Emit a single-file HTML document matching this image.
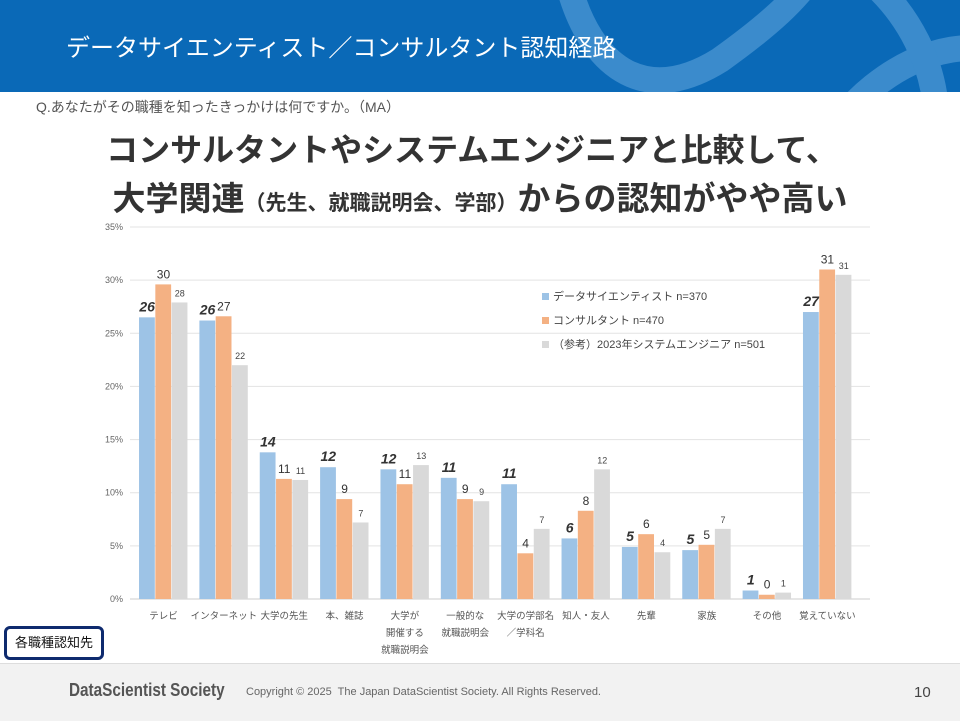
<!DOCTYPE html>
<html><head><meta charset="utf-8"><style>
body{margin:0;width:960px;height:720px;position:relative;background:#fff;overflow:hidden;font-family:"Liberation Sans","Noto Sans CJK JP",sans-serif}
.abs{position:absolute}
</style></head><body>
<div class="abs" style="left:0;top:0;width:960px;height:92px;background:#0a69b7;overflow:hidden">
<svg width="960" height="92" style="position:absolute;left:0;top:0">
<path d="M570,-10 C590,60 640,110 720,60 C790,10 800,-10 810,-20" stroke="#3b8bcc" stroke-width="26" fill="none"/>
<path d="M840,120 C880,70 940,40 990,50" stroke="#3b8bcc" stroke-width="26" fill="none"/>
<path d="M880,-10 C910,20 930,60 935,100" stroke="#3b8bcc" stroke-width="26" fill="none"/>
</svg>
<div class="abs" style="left:66px;top:28px;color:#fff;font-size:24px;white-space:nowrap">データサイエンティスト／コンサルタント認知経路</div>
</div>
<div class="abs" style="left:36px;top:97px;font-size:14px;color:#555;white-space:nowrap">Q.あなたがその職種を知ったきっかけは何ですか。（MA）</div>
<div class="abs" style="left:0;width:944px;text-align:center;top:125px;font-size:32px;font-weight:bold;color:#333;white-space:nowrap">コンサルタントやシステムエンジニアと比較して、</div>
<div class="abs" style="left:0;width:960px;text-align:center;top:172px;font-weight:bold;color:#333;white-space:nowrap;font-size:33px">大学関連<span style="font-size:21px">（先生、就職説明会、学部）</span>からの認知がやや高い</div>
<svg id="chart" class="abs" style="left:0;top:0" width="960" height="720"></svg>
<div class="abs" style="left:4px;top:626px;width:94px;height:28px;border:3px solid #0e2a6e;border-radius:6px;font-size:13px;line-height:28px;text-align:center;color:#111">各職種認知先</div>
<div class="abs" style="left:0;top:663px;width:960px;height:57px;background:#f2f2f2;border-top:1px solid #ddd"></div>
<div class="abs" style="left:69px;top:680px;font-size:18px;font-weight:bold;color:#555;transform:scaleX(0.85);transform-origin:left">DataScientist Society</div>
<div class="abs" style="left:246px;top:686px;font-size:11px;color:#666">Copyright © 2025&nbsp; The Japan DataScientist Society. All Rights Reserved.</div>
<div class="abs" style="left:914px;top:684px;font-size:15px;color:#444">10</div>
<script>
const categories=["テレビ","インターネット","大学の先生","本、雑誌","大学が\n開催する\n就職説明会","一般的な\n就職説明会","大学の学部名\n／学科名","知人・友人","先輩","家族","その他","覚えていない"];
const dsValues=[26.5,26.2,13.8,12.4,12.2,11.4,10.8,5.7,4.9,4.6,0.8,27.0];
const coValues=[29.6,26.6,11.3,9.4,10.8,9.4,4.3,8.3,6.1,5.1,0.4,31.0];
const seValues=[27.9,22.0,11.2,7.2,12.6,9.2,6.6,12.2,4.4,6.6,0.6,30.5];
const dsLabels=[26,26,14,12,12,11,11,6,5,5,1,27];
const coLabels=[30,27,11,9,11,9,4,8,6,5,0,31];
const seLabels=[28,22,11,7,13,9,7,12,4,7,1,31];
const yTicks=[0,5,10,15,20,25,30,35];
const legendNames=["データサイエンティスト n=370","コンサルタント n=470","（参考）2023年システムエンジニア n=501"];
const svg=document.getElementById('chart');const NS="http://www.w3.org/2000/svg";
const x0=133.3,x1=857.6,gx0=130,gx1=870,yBase=599,yTop=227,yMax=35;
const y=v=>yBase-(v/yMax)*(yBase-yTop);
const band=(x1-x0)/categories.length;
const cx=i=>x0+band*(i+0.5);
function mk(t,a,txt){const e=document.createElementNS(NS,t);for(const k in a)e.setAttribute(k,a[k]);if(txt!==undefined)e.textContent=txt;svg.appendChild(e);return e;}
yTicks.forEach(t=>{
const g=mk('line',{x1:gx0,x2:gx1,y1:y(t),y2:y(t),stroke:t===0?'#ccc':'#e3e3e3','stroke-width':1});


const l=mk('text',{x:123,y:y(t)+3,'text-anchor':'end','font-size':9,fill:'#666'},t+'%');


});
const series=[{v:dsValues,l:dsLabels,c:'#9dc3e6',fs:14,fw:'bold',st:'italic',col:'#333'},{v:coValues,l:coLabels,c:'#f4b183',fs:12,fw:'normal',st:'normal',col:'#333'},{v:seValues,l:seLabels,c:'#d9d9d9',fs:9,fw:'normal',st:'normal',col:'#444'}];
const bw=16.3;
categories.forEach((c,i)=>{
series.forEach((s,j)=>{
const bx=cx(i)+(j-1.5)*bw;
const r=mk('rect',{x:bx,y:y(s.v[i]),width:bw-0.5,height:yBase-y(s.v[i]),fill:s.c});


const t=mk('text',{x:bx+bw/2,y:y(s.v[i])-6,'text-anchor':'middle','font-size':s.fs,'font-weight':s.fw,'font-style':s.st,fill:s.col},s.l[i]);


});
c.split('\n').forEach((ln,k)=>{
const t=mk('text',{x:cx(i),y:619+k*17,'text-anchor':'middle','font-size':9.5,fill:'#555'},ln);


});
});
legendNames.forEach((n,k)=>{
const ly=300+k*24;
const r=mk('rect',{x:542,y:ly-7,width:7,height:7,fill:series[k].c});


const t=mk('text',{x:553,y:ly,'font-size':11,fill:'#444'},n);


});
</script>
</body></html>
